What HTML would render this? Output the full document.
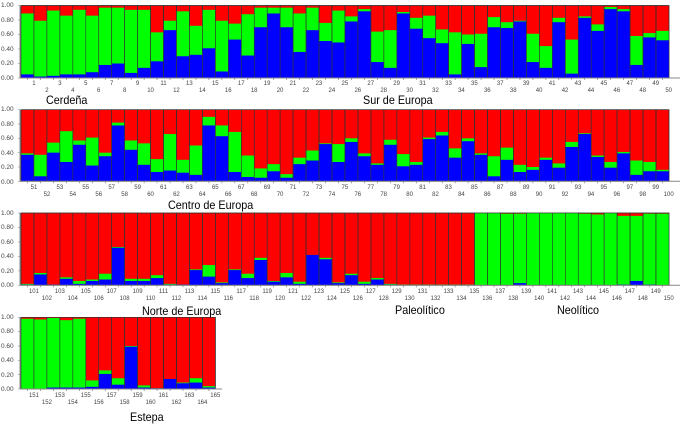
<!DOCTYPE html>
<html><head><meta charset="utf-8"><style>
body{margin:0;background:#fff;width:700px;height:425px;overflow:hidden;position:relative;font-family:"Liberation Sans",sans-serif}
svg{position:absolute;left:0;top:0}
.row{position:absolute;display:flex;font-size:6px;color:#444;line-height:7px}
.row div{width:25.92px;text-align:center;flex:none}
.yl{position:absolute;font-size:6.5px;color:#444;left:1px;line-height:7px}
.g{position:absolute;font-size:12px;color:#000;white-space:nowrap;transform:scaleX(0.9);transform-origin:left}
</style></head><body>
<svg id="s" width="700" height="425"></svg>

<div class="row" style="left:21px;top:81px"><div>1</div><div>3</div><div>5</div><div>7</div><div>9</div><div>11</div><div>13</div><div>15</div><div>17</div><div>19</div><div>21</div><div>23</div><div>25</div><div>27</div><div>29</div><div>31</div><div>33</div><div>35</div><div>37</div><div>39</div><div>41</div><div>43</div><div>45</div><div>47</div><div>49</div></div>
<div class="row" style="left:33.96px;top:88px"><div>2</div><div>4</div><div>6</div><div>8</div><div>10</div><div>12</div><div>14</div><div>16</div><div>18</div><div>20</div><div>22</div><div>24</div><div>26</div><div>28</div><div>30</div><div>32</div><div>34</div><div>36</div><div>38</div><div>40</div><div>42</div><div>44</div><div>46</div><div>48</div><div>50</div></div>

<div class="row" style="left:21px;top:185px"><div>51</div><div>53</div><div>55</div><div>57</div><div>59</div><div>61</div><div>63</div><div>65</div><div>67</div><div>69</div><div>71</div><div>73</div><div>75</div><div>77</div><div>79</div><div>81</div><div>83</div><div>85</div><div>87</div><div>89</div><div>91</div><div>93</div><div>95</div><div>97</div><div>99</div></div>
<div class="row" style="left:33.96px;top:192px"><div>52</div><div>54</div><div>56</div><div>58</div><div>60</div><div>62</div><div>64</div><div>66</div><div>68</div><div>70</div><div>72</div><div>74</div><div>76</div><div>78</div><div>80</div><div>82</div><div>84</div><div>86</div><div>88</div><div>90</div><div>92</div><div>94</div><div>96</div><div>98</div><div>100</div></div>

<div class="row" style="left:21px;top:289px"><div>101</div><div>103</div><div>105</div><div>107</div><div>109</div><div>111</div><div>113</div><div>115</div><div>117</div><div>119</div><div>121</div><div>123</div><div>125</div><div>127</div><div>129</div><div>131</div><div>133</div><div>135</div><div>137</div><div>139</div><div>141</div><div>143</div><div>145</div><div>147</div><div>149</div></div>
<div class="row" style="left:33.96px;top:296px"><div>102</div><div>104</div><div>106</div><div>108</div><div>110</div><div>112</div><div>114</div><div>116</div><div>118</div><div>120</div><div>122</div><div>124</div><div>126</div><div>128</div><div>130</div><div>132</div><div>134</div><div>136</div><div>138</div><div>140</div><div>142</div><div>144</div><div>146</div><div>148</div><div>150</div></div>

<div class="row" style="left:21px;top:393px"><div>151</div><div>153</div><div>155</div><div>157</div><div>159</div><div>161</div><div>163</div><div>165</div></div>
<div class="row" style="left:33.96px;top:400px"><div>152</div><div>154</div><div>156</div><div>158</div><div>160</div><div>162</div><div>164</div></div>

<div class="yl" style="top:2px">1.00</div><div class="yl" style="top:16.5px">0.80</div><div class="yl" style="top:31px">0.60</div><div class="yl" style="top:45.5px">0.40</div><div class="yl" style="top:60px">0.20</div><div class="yl" style="top:74.5px">0.00</div>
<div class="yl" style="top:106px">1.00</div><div class="yl" style="top:120.5px">0.80</div><div class="yl" style="top:135px">0.60</div><div class="yl" style="top:149.5px">0.40</div><div class="yl" style="top:164px">0.20</div><div class="yl" style="top:178.5px">0.00</div>
<div class="yl" style="top:209.5px">1.00</div><div class="yl" style="top:224px">0.80</div><div class="yl" style="top:238.5px">0.60</div><div class="yl" style="top:253px">0.40</div><div class="yl" style="top:267.5px">0.20</div><div class="yl" style="top:282px">0.00</div>
<div class="yl" style="top:313.5px">1.00</div><div class="yl" style="top:328px">0.80</div><div class="yl" style="top:342.5px">0.60</div><div class="yl" style="top:357px">0.40</div><div class="yl" style="top:371.5px">0.20</div><div class="yl" style="top:386px">0.00</div>

<div class="g" style="left:46px;top:93px">Cerdeña</div>
<div class="g" style="left:363px;top:93px">Sur de Europa</div>
<div class="g" style="left:168px;top:198px">Centro de Europa</div>
<div class="g" style="left:142px;top:304px">Norte de Europa</div>
<div class="g" style="left:395px;top:303px">Paleolítico</div>
<div class="g" style="left:557px;top:303px">Neolítico</div>
<div class="g" style="left:130px;top:410px">Estepa</div>

<script>
var d=[[.05,.89],[.02,.79],[.03,.93],[.05,.86],[.05,.94],[.08,.86],[.18,.97],[.2,.97],[.07,.94],[.14,.94],[.23,.63],[.66,.79],[.3,.92],[.32,.72],[.41,.94],[.09,.79],[.53,.75],[.31,.88],[.7,.97],[.89,.97],[.7,.97],[.36,.89],[.66,.97],[.51,.76],[.49,.93],[.78,.85],[.92,.95],[.22,.64],[.14,.66],[.89,.91],[.68,.83],[.55,.86],[.48,.67],[.05,.63],[.47,.6],[.15,.61],[.7,.84],[.69,.77],[.78,.79],[.22,.61],[.14,.44],[.77,.83],[.06,.53],[.83,.85],[.65,.74],[.95,.98],[.92,.95],[.18,.58],[.56,.62],[.52,.65],
[.37,.39],[.07,.37],[.4,.54],[.27,.7],[.51,.57],[.22,.61],[.35,.4],[.78,.82],[.44,.57],[.23,.53],[.13,.31],[.15,.66],[.12,.3],[.09,.5],[.78,.9],[.63,.78],[.13,.69],[.06,.36],[.05,.18],[.14,.24],[.05,.1],[.24,.33],[.29,.43],[.52,.53],[.27,.52],[.55,.6],[.35,.39],[.23,.25],[.51,.58],[.21,.38],[.23,.27],[.59,.61],[.64,.69],[.33,.46],[.56,.6],[.37,.39],[.07,.35],[.3,.47],[.13,.23],[.16,.2],[.3,.33],[.19,.25],[.48,.55],[.66,.67],[.34,.36],[.19,.27],[.39,.41],[.09,.29],[.14,.27],[.14,.16],
[.01,.02],[.15,.17],[.01,.01],[.09,.11],[.02,.06],[.06,.08],[.08,.16],[.52,.53],[.06,.09],[.06,.09],[.1,.14],[.01,.02],[.01,.01],[.21,.22],[.12,.28],[.03,.04],[.21,.22],[.1,.16],[.35,.38],[.05,.06],[.11,.17],[.02,.05],[.42,.42],[.36,.38],[.03,.04],[.14,.16],[.02,.05],[.08,.1],[.01,.02],[.005,.01],[.005,.01],[.005,.01],[.005,.01],[.005,.01],[.005,.01],
[0,1],[0,1],[0,.99],[.03,.99],[0,1],[0,1],[.005,1],[0,1],[.005,.99],[.005,.98],[0,1],[.01,.96],[.06,.96],[.01,.99],[0,.99],
[0,.98],[.005,.97],[.02,.99],[.02,.96],[.02,.98],[.03,.12],[.21,.26],[.06,.15],[.59,.6],[.02,.05],[.01,.01],[.14,.14],[.08,.09],[.09,.15],[.02,.04]];
var tops=[5.5,109.7,213,317.3],bots=[78,181.3,285.3,389],h='',w=12.96,x0=21;
function R(x,y,ww,hh,c,st){return '<rect x="'+x+'" y="'+y+'" width="'+ww+'" height="'+hh+'" fill="'+c+'"'+(st?' stroke="#333" stroke-width="0.6"':'')+'/>';}
for(var i=0;i<165;i++){var p=Math.min(3,Math.floor(i/50)),k=i-p*50,t=tops[p],b=bots[p],H=b-t,x=x0+k*w;
h+=R(x,t,w,H,'#f00',1);h+=R(x,b-d[i][1]*H,w,d[i][1]*H,'#0f0');h+=R(x,b-d[i][0]*H,w,d[i][0]*H,'#00f');
h+='<rect x="'+x+'" y="'+t+'" width="'+w+'" height="'+H+'" fill="none" stroke="#333" stroke-width="0.6"/>';
h+='<line x1="'+(x+w/2)+'" y1="'+b+'" x2="'+(x+w/2)+'" y2="'+(b+2)+'" stroke="#666" stroke-width="0.6"/>';}
for(p=0;p<4;p++){var t=tops[p],b=bots[p],xe=p<3?680:222;
h+='<line x1="20" y1="'+t+'" x2="20" y2="'+b+'" stroke="#888"/><line x1="20" y1="'+b+'" x2="'+xe+'" y2="'+b+'" stroke="#888"/>';
for(var j=0;j<=5;j++){var yy=b-(b-t)*j/5;h+='<line x1="18" y1="'+yy+'" x2="20" y2="'+yy+'" stroke="#888" stroke-width="0.6"/>';}}
document.getElementById('s').innerHTML=h;
</script>
</body></html>
